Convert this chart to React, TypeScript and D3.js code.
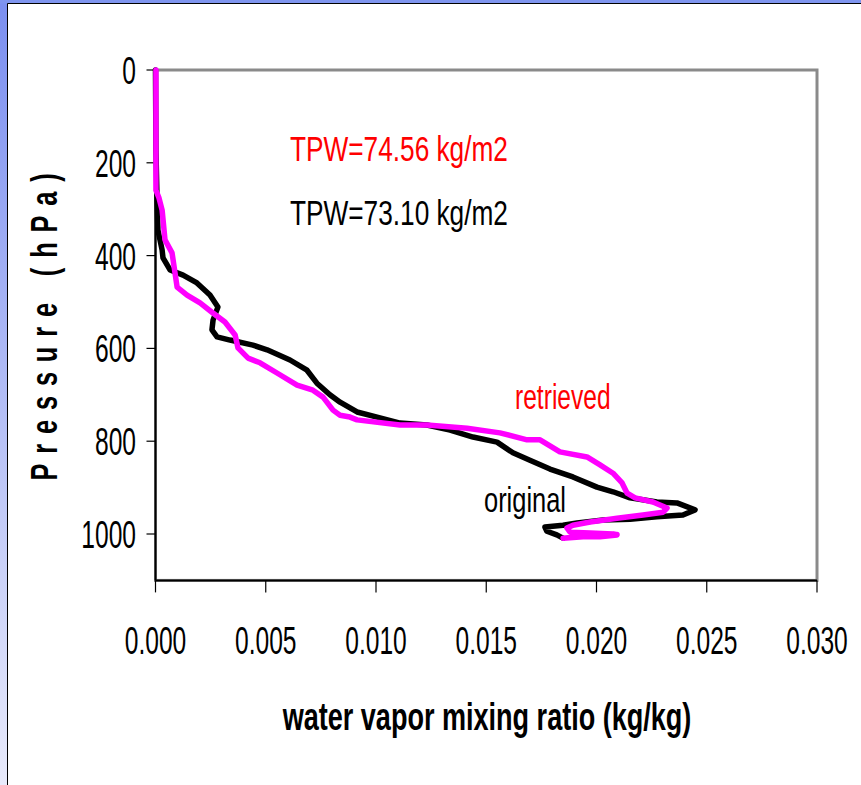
import React from "react";
import * as d3 from "d3";

const W = 861;
const H = 785;

// tick values
const pressureTicks = [0, 200, 400, 600, 800, 1000];
const ratioTicks = [0, 0.005, 0.01, 0.015, 0.02, 0.025, 0.03];

// original profile (black): [mixing ratio kg/kg, pressure hPa]
const originalProfile: [number, number][] = [
  [0.0, 0], [0.00002, 172], [0.00007, 280], [0.00011, 345], [0.0003, 388],
  [0.00034, 405], [0.00066, 431], [0.00125, 442], [0.00188, 459], [0.00247, 485],
  [0.00283, 511], [0.00261, 539], [0.00256, 560], [0.00279, 575], [0.00338, 582],
  [0.00442, 593], [0.00506, 603], [0.0061, 625], [0.00687, 647], [0.00732, 675],
  [0.00791, 700], [0.00837, 716], [0.00914, 737], [0.01005, 748], [0.01109, 761],
  [0.01231, 765], [0.01336, 776], [0.0144, 791], [0.01549, 802], [0.01621, 825],
  [0.01698, 841], [0.01789, 860], [0.01893, 877], [0.02002, 899], [0.02075, 909],
  [0.02152, 922], [0.02274, 931], [0.02365, 933], [0.02447, 948], [0.02392, 959],
  [0.02274, 963], [0.02152, 968], [0.0203, 970], [0.01912, 976], [0.01848, 981],
  [0.01766, 985], [0.01775, 994], [0.0182, 1002], [0.01848, 1009],
];

// retrieved profile (magenta)
const retrievedProfile: [number, number][] = [
  [0.00002, 0], [0.00002, 259], [0.00016, 276], [0.0003, 302], [0.00043, 366],
  [0.00075, 394], [0.00098, 468], [0.00143, 485], [0.00202, 502], [0.00256, 522],
  [0.00315, 543], [0.00361, 571], [0.00374, 599], [0.0042, 621], [0.00474, 631],
  [0.00551, 653], [0.00642, 679], [0.00714, 690], [0.0076, 705], [0.00805, 733],
  [0.00837, 744], [0.00882, 748], [0.00914, 754], [0.01109, 765], [0.01231, 765],
  [0.01413, 772], [0.01562, 782], [0.01685, 797], [0.01744, 797], [0.01834, 823],
  [0.01957, 834], [0.02016, 851], [0.02075, 869], [0.02116, 890], [0.02139, 912],
  [0.02175, 922], [0.02256, 931], [0.0232, 944], [0.02302, 953], [0.02211, 959],
  [0.02093, 966], [0.01971, 974], [0.01893, 981], [0.01866, 987], [0.0188, 996],
  [0.01971, 998], [0.02075, 1000], [0.02093, 1002], [0.02016, 1006], [0.01939, 1006],
  [0.01848, 1009], [0.01939, 1005], [0.02016, 1003], [0.02093, 1001],
];

const tpwRetrieved = "TPW=74.56 kg/m2";
const tpwOriginal = "TPW=73.10 kg/m2";

const FONT = "'Liberation Sans', Arial, sans-serif";
const NARROW = 0.82;

function NText(props: {
  x: number; y: number; size: number; anchor?: string; fill?: string;
  bold?: boolean; rotate?: number; spacing?: number; sy?: number; children: React.ReactNode;
}) {
  const { x, y, size, anchor = "start", fill = "#000", bold, rotate = 0, spacing = 0, sy = 1 } = props;
  return (
    <g transform={`translate(${x},${y}) rotate(${rotate}) scale(${NARROW},${sy})`}>
      <text
        x={0}
        y={0}
        fontFamily={FONT}
        fontSize={size}
        fontWeight={bold ? "bold" : "normal"}
        textAnchor={anchor}
        fill={fill}
        letterSpacing={spacing}
      >
        {props.children}
      </text>
    </g>
  );
}

export default function App() {
  const x = d3.scaleLinear().domain([0, 0.03]).range([155.5, 817]);
  const y = d3.scaleLinear().domain([0, 1100]).range([70, 580.4]);
  const line = d3
    .line<[number, number]>()
    .x((d) => x(d[0]))
    .y((d) => y(d[1]));

  const left = x(0);
  const right = x(0.03);
  const top = y(0);
  const bottom = y(1100);

  return (
    <svg
      width={W}
      height={H}
      style={{ position: "absolute", left: 0, top: 0, display: "block" }}
    >
      <defs>
        <linearGradient id="leftBand" x1="0" y1="0" x2="0" y2="1">
          <stop offset="0" stopColor="#7b8ff0" />
          <stop offset="1" stopColor="#e8eafb" />
        </linearGradient>
      </defs>
      <rect x={0} y={0} width={W} height={H} fill="#ffffff" />
      <rect x={0} y={0} width={8} height={H} fill="url(#leftBand)" />
      <rect x={0} y={0} width={W} height={3.5} fill="#7f95ef" />
      <line x1={7.5} y1={3.5} x2={7.5} y2={H} stroke="#000" strokeWidth={1} />
      <line x1={7.5} y1={3.5} x2={W} y2={3.5} stroke="#000" strokeWidth={1} />

      {/* plot area */}
      <rect
        x={left}
        y={top}
        width={right - left}
        height={bottom - top}
        fill="#fff"
        stroke="#8a8a8a"
        strokeWidth={3}
      />
      <line x1={left} y1={top} x2={left} y2={bottom} stroke="#000" strokeWidth={2} />
      <line x1={left} y1={bottom} x2={right} y2={bottom} stroke="#000" strokeWidth={2} />

      {pressureTicks.map((p) => (
        <g key={"yt" + p}>
          <line x1={left - 9} x2={left} y1={y(p)} y2={y(p)} stroke="#000" strokeWidth={1.2} />
          <NText x={136} y={y(p) + 14} size={30} sy={1.28} anchor="end">
            {String(p)}
          </NText>
        </g>
      ))}
      {ratioTicks.map((r) => (
        <g key={"xt" + r}>
          <line x1={x(r)} x2={x(r)} y1={bottom} y2={bottom + 12} stroke="#000" strokeWidth={1.2} />
          <NText x={x(r)} y={654} size={30} sy={1.28} anchor="middle">
            {r.toFixed(3)}
          </NText>
        </g>
      ))}

      <path
        d={line(originalProfile) || ""}
        fill="none"
        stroke="#000"
        strokeWidth={5.5}
        strokeLinejoin="round"
        strokeLinecap="round"
      />
      <path
        d={line(retrievedProfile) || ""}
        fill="none"
        stroke="#ff00ff"
        strokeWidth={5.5}
        strokeLinejoin="round"
        strokeLinecap="round"
      />

      <NText x={290} y={161} size={32} sy={1.1} fill="#ff0000">
        {tpwRetrieved}
      </NText>
      <NText x={290} y={225} size={32} sy={1.1}>
        {tpwOriginal}
      </NText>
      <NText x={515} y={409} size={30} sy={1.15} fill="#ff0000">
        retrieved
      </NText>
      <NText x={484} y={512} size={31} sy={1.15}>
        original
      </NText>

      <NText x={487} y={730} size={33} sy={1.15} anchor="middle" bold>
        water vapor mixing ratio (kg/kg)
      </NText>
      <NText x={57} y={322} size={31} sy={1.2} anchor="middle" bold rotate={-90} spacing={12}>
        Pressure (hPa)
      </NText>
    </svg>
  );
}
